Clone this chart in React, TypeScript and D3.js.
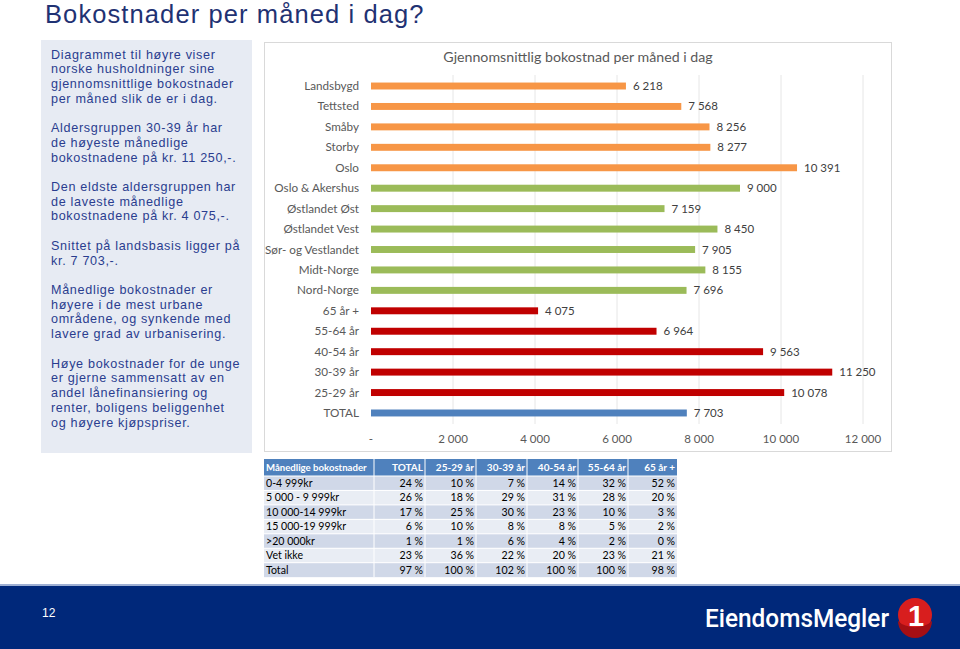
import React from "react";
import * as d3 from "d3";

const categories = [
  "Landsbygd", "Tettsted", "Småby", "Storby", "Oslo",
  "Oslo & Akershus", "Østlandet Øst", "Østlandet Vest", "Sør- og Vestlandet", "Midt-Norge", "Nord-Norge",
  "65 år +", "55-64 år", "40-54 år", "30-39 år", "25-29 år", "TOTAL",
];
const values = [6218, 7568, 8256, 8277, 10391, 9000, 7159, 8450, 7905, 8155, 7696, 4075, 6964, 9563, 11250, 10078, 7703];
const groups = ["urb", "urb", "urb", "urb", "urb", "reg", "reg", "reg", "reg", "reg", "reg", "age", "age", "age", "age", "age", "tot"];
const groupColors: Record<string, string> = { urb: "#f79646", reg: "#9bbb59", age: "#c00000", tot: "#4f81bd" };
const xTicks = [0, 2000, 4000, 6000, 8000, 10000, 12000];

const tableHeader = ["Månedlige bokostnader", "TOTAL", "25-29 år", "30-39 år", "40-54 år", "55-64 år", "65 år +"];
const tableRows = ["0-4 999kr", "5 000 - 9 999kr", "10 000-14 999kr", "15 000-19 999kr", ">20 000kr", "Vet ikke", "Total"];
const tableValues = [
  [24, 10, 7, 14, 32, 52],
  [26, 18, 29, 31, 28, 20],
  [17, 25, 30, 23, 10, 3],
  [6, 10, 8, 8, 5, 2],
  [1, 1, 6, 4, 2, 0],
  [23, 36, 22, 20, 23, 21],
  [97, 100, 102, 100, 100, 98],
];

const panelLines = [
  "Diagrammet til høyre viser", "norske husholdninger sine", "gjennomsnittlige bokostnader", "per måned slik de er i dag.", "",
  "Aldersgruppen 30-39 år har", "de høyeste månedlige", "bokostnadene på kr. 11 250,-.", "",
  "Den eldste aldersgruppen har", "de laveste månedlige", "bokostnadene på kr. 4 075,-.", "",
  "Snittet på landsbasis ligger på", "kr. 7 703,-.", "",
  "Månedlige bokostnader er", "høyere i de mest urbane", "områdene, og synkende med", "lavere grad av urbanisering.", "",
  "Høye bokostnader for de unge", "er gjerne sammensatt av en", "andel lånefinansiering og", "renter, boligens beliggenhet", "og høyere kjøpspriser.",
];

const fmt = (v: number) => d3.format(",")(v).replace(/,/g, " ");
const chartFont = "Lato, 'Open Sans', sans-serif";
const slideFont = "'Liberation Sans', Arial, sans-serif";

export default function App() {
  const x = d3.scaleLinear().domain([0, 12000]).range([371, 863]);
  const y = d3.scaleBand<string>().domain(categories).range([75.8, 423.2]).paddingInner(0.66).paddingOuter(0.33);
  const bw = y.bandwidth();

  const colEdges = [264, 374, 425, 476, 527, 578, 628, 677];
  const headerTop = 459, headerH = 17, rowH = 14.45;

  return (
    <svg width={960} height={649} style={{ position: "absolute", left: 0, top: 0 }} xmlns="http://www.w3.org/2000/svg">
      <rect x={0} y={0} width={960} height={649} fill="#ffffff" />
      {/* Title */}
      <text x={45} y={23} fontFamily={slideFont} fontSize={25.5} letterSpacing={1.1} fill="#1f3273">Bokostnader per måned i dag?</text>

      {/* Left panel */}
      <rect x={41} y={40} width={211} height={413} fill="#e7ebf3" />
      {panelLines.map((l, i) => (
        <text key={i} x={51} y={58.5 + i * 14.72} fontFamily={slideFont} fontSize={12.6} letterSpacing={0.68} fill="#2a3d8f">{l}</text>
      ))}

      {/* Chart box */}
      <rect x={264.5} y={42.5} width={627} height={409} fill="#ffffff" stroke="#d9d9d9" strokeWidth={1} />
      <text x={578} y={62} textAnchor="middle" fontFamily={chartFont} fontSize={14.2} fill="#595959">Gjennomsnittlig bokostnad per måned i dag</text>
      {xTicks.map((t) => (
        <g key={t}>
          {t > 0 && <line x1={x(t)} x2={x(t)} y1={75} y2={424} stroke="#e6e6e6" strokeWidth={1} />}
          <text x={x(t)} y={443} textAnchor="middle" fontFamily={chartFont} fontSize={11.5} fill="#595959">{t === 0 ? "-" : fmt(t)}</text>
        </g>
      ))}
      {categories.map((c, i) => {
        const yy = y(c)!;
        return (
          <g key={c}>
            <text x={359} y={yy + bw / 2 + 4} textAnchor="end" fontFamily={chartFont} fontSize={11.7} fill="#595959">{c}</text>
            <rect x={x(0)} y={yy} width={x(values[i]) - x(0)} height={bw} fill={groupColors[groups[i]]} />
            <text x={x(values[i]) + 7} y={yy + bw / 2 + 4} fontFamily={chartFont} fontSize={11.5} fill="#404040">{fmt(values[i])}</text>
          </g>
        );
      })}

      {/* Table */}
      <rect x={colEdges[0]} y={headerTop} width={colEdges[7] - colEdges[0]} height={headerH} fill="#4f81bd" />
      {tableRows.map((r, ri) => (
        <rect key={r} x={colEdges[0]} y={headerTop + headerH + ri * rowH} width={colEdges[7] - colEdges[0]} height={rowH} fill={ri % 2 === 0 ? "#d0d8e8" : "#e9edf4"} />
      ))}
      {tableRows.map((r, ri) => (
        <line key={"h" + ri} x1={colEdges[0]} x2={colEdges[7]} y1={headerTop + headerH + ri * rowH} y2={headerTop + headerH + ri * rowH} stroke="#ffffff" strokeWidth={1} />
      ))}
      {colEdges.slice(1, 7).map((cx, i) => (
        <line key={"v" + i} x1={cx} x2={cx} y1={headerTop} y2={headerTop + headerH + tableRows.length * rowH} stroke="#ffffff" strokeWidth={1} />
      ))}
      {tableHeader.map((h, ci) => (
        <text key={h} x={ci === 0 ? colEdges[0] + 2 : colEdges[ci + 1] - 2} y={headerTop + 12.3} textAnchor={ci === 0 ? "start" : "end"} fontFamily={chartFont} fontWeight={700} fontSize={ci === 0 ? 9.6 : 10} fill="#ffffff">{h}</text>
      ))}
      {tableRows.map((r, ri) => (
        <g key={"t" + r}>
          <text x={colEdges[0] + 2} y={headerTop + headerH + ri * rowH + 10.8} fontFamily={chartFont} fontSize={10.6} fill="#000000">{r}</text>
          {tableValues[ri].map((v, ci) => (
            <text key={ci} x={colEdges[ci + 2] - 2} y={headerTop + headerH + ri * rowH + 10.8} textAnchor="end" fontFamily={chartFont} fontSize={10.6} fill="#000000">{v + " %"}</text>
          ))}
        </g>
      ))}

      {/* Footer */}
      <rect x={0} y={584} width={960} height={2} fill="#9fb0d3" />
      <rect x={0} y={586} width={960} height={63} fill="#00287a" />
      <text x={42} y={617} fontFamily={slideFont} fontSize={12} fill="#ffffff">12</text>
      <text x={705} y={627} fontFamily="Roboto, 'Liberation Sans', sans-serif" fontSize={26.5} fontWeight={500} fill="#ffffff" textLength={184} lengthAdjust="spacingAndGlyphs">EiendomsMegler</text>
      <circle cx={915} cy={615} r={17} fill="#d81e1e" />
      <path d="M 898 621 A 17 17 0 0 0 932 621 A 21 15 0 0 1 898 621 Z" fill="#a50f14" />
      <text x={916} y={626} textAnchor="middle" fontFamily="'Liberation Sans', Arial, sans-serif" fontWeight={700} fontSize={29} fill="#ffffff">1</text>
    </svg>
  );
}
